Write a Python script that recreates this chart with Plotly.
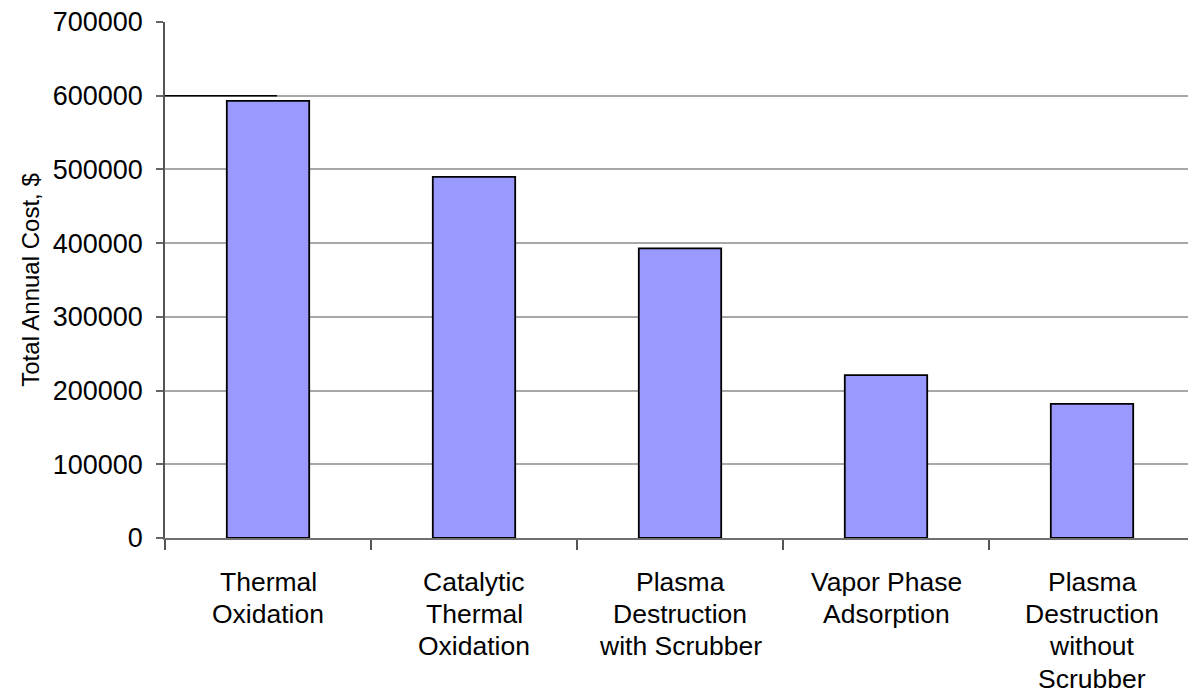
import plotly.graph_objects as go

# Total annual cost by treatment technology
categories = [
    "Thermal Oxidation",
    "Catalytic Thermal Oxidation",
    "Plasma Destruction with Scrubber",
    "Vapor Phase Adsorption",
    "Plasma Destruction without Scrubber",
]
label_lines = [
    ["Thermal", "Oxidation"],
    ["Catalytic", "Thermal", "Oxidation"],
    ["Plasma", "Destruction", "with Scrubber"],
    ["Vapor Phase", "Adsorption"],
    ["Plasma", "Destruction", "without", "Scrubber"],
]
annual_cost = [593000, 490000, 393000, 221000, 182000]
y_ticks = [0, 100000, 200000, 300000, 400000, 500000, 600000, 700000]

FONT = "Liberation Sans, Arial, sans-serif"

fig = go.Figure()
fig.add_trace(go.Bar(
    x=categories,
    y=annual_cost,
    marker=dict(color="#9999ff", line=dict(color="#000000", width=1.8)),
    hoverinfo="x+y",
))

# Category labels, one annotation per text line for tighter line spacing
for cat, lines in zip(categories, label_lines):
    for i, line in enumerate(lines):
        fig.add_annotation(
            x=cat, y=0, xref="x", yref="y",
            text=line, showarrow=False,
            xanchor="center", yanchor="middle",
            yshift=-44 - 32.2 * i,
            font=dict(family=FONT, size=26.5, color="#000000"),
        )

# darker start of the 600000 gridline
fig.add_shape(
    type="line", xref="x", yref="y",
    x0=-0.5, x1=0.044, y0=600000, y1=600000,
    line=dict(color="#000000", width=1.5), layer="above",
)

fig.update_layout(
    width=1188, height=694,
    margin=dict(l=165, r=0, t=22, b=156),
    paper_bgcolor="#ffffff", plot_bgcolor="#ffffff",
    bargap=0.6,
    showlegend=False,
    font=dict(family=FONT, color="#000000"),
)
fig.update_xaxes(
    type="category",
    range=[-0.5, 4.466],
    showticklabels=False,
    ticks="outside", tickson="boundaries", ticklen=10,
    tickcolor="#555555", tickwidth=1.5,
    showline=True, linecolor="#707070", linewidth=2.2,
    showgrid=False,
)
fig.update_yaxes(
    range=[0, 700000],
    tickvals=y_ticks,
    ticktext=[str(v) for v in y_ticks],
    tickfont=dict(family=FONT, size=27, color="#000000"),
    ticks="outside", ticklen=7, tickcolor="#666666", tickwidth=1.5,
    ticklabelstandoff=8,
    showline=True, linecolor="#555555", linewidth=1.5,
    showgrid=True, gridcolor="#a8a8a8", gridwidth=1.6,
    zeroline=False,
    title=dict(text="Total Annual Cost, $", font=dict(family=FONT, size=24, color="#000000"), standoff=6),
)

fig.write_html("out.html")
